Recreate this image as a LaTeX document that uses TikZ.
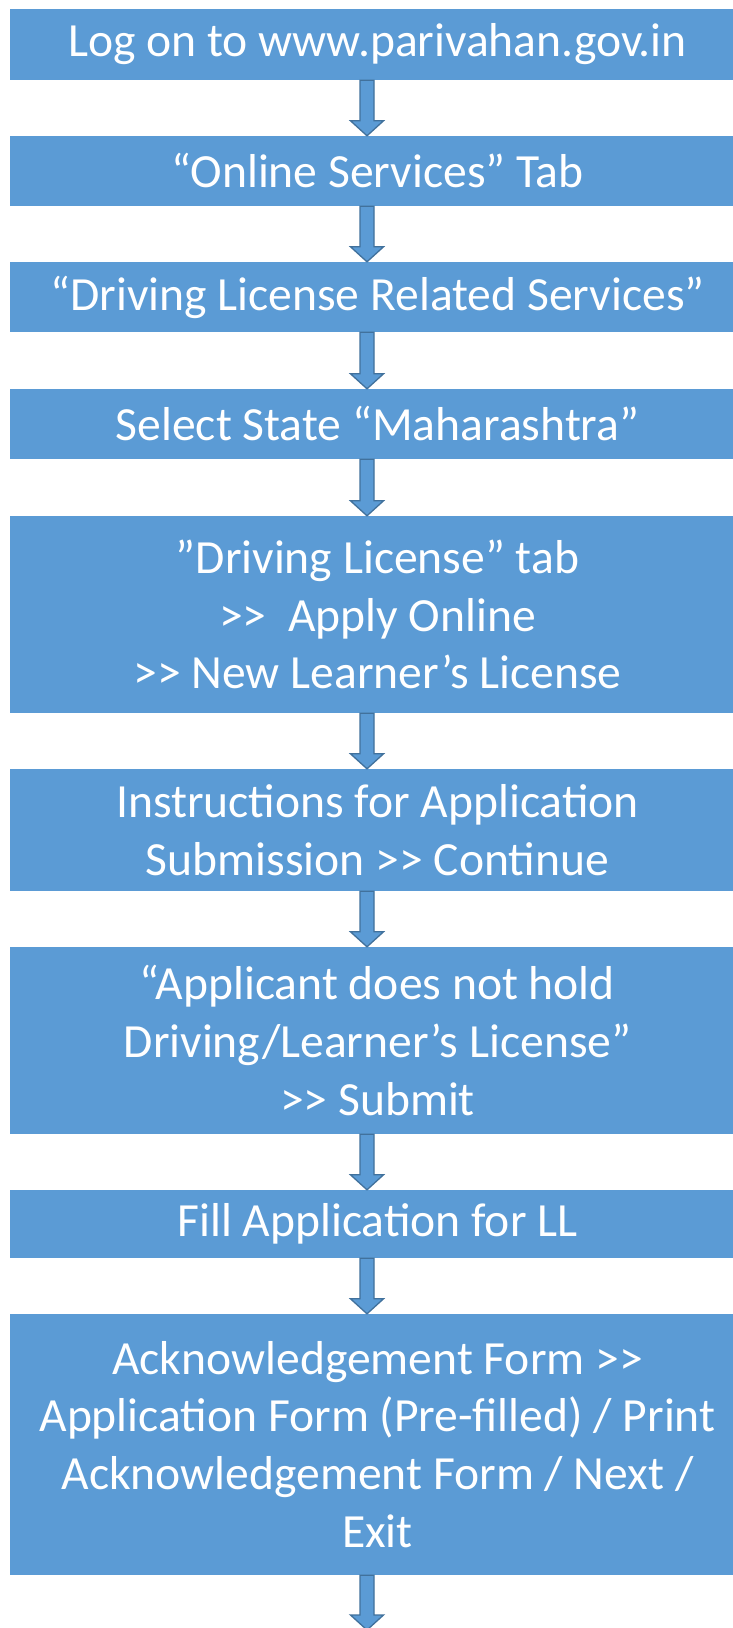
\documentclass[tikz,border=0pt]{standalone}
\usepackage{fontspec}
\setmainfont{Carlito}[Ligatures=TeXOff]
\usetikzlibrary{calc}
\definecolor{boxblue}{HTML}{5B9BD5}
\definecolor{arrowedge}{HTML}{41719C}
\tikzset{
  flowbox/.style={fill=boxblue, draw=none, text=white, minimum width=735pt, inner sep=0pt, align=center, font=\fontsize{47.6}{57.8}\selectfont},
  blockarr/.style={fill=boxblue, draw=arrowedge, line width=1.3pt, line join=miter}
}
\newcommand\flowarrow[2]{%
  \draw[blockarr] ($(#1)+(-7,0)$) -- ($(#2)+(-7,-15)$) -- ($(#2)+(-16.5,-15)$) -- (#2) -- ($(#2)+(16.5,-15)$) -- ($(#2)+(7,-15)$) -- ($(#1)+(7,0)$) -- cycle;}
\begin{document}
\begin{tikzpicture}[x=1pt,y=-1pt]
\useasboundingbox (0,0) rectangle (733,1628);
\clip (0,0) rectangle (733,1628);
\fill[white] (0,0) rectangle (733,1628);
\coordinate (ax) at (367,0);
\node[flowbox, minimum height=71pt] (b1) at (377.5,44.5) {Log on to www.parivahan.gov.in};
\node[flowbox, minimum height=70pt] (b2) at (377.5,171) {“Online Services” Tab};
\node[flowbox, minimum height=70pt] (b3) at (377.5,297) {“Driving License Related Services”};
\node[flowbox, minimum height=70pt] (b4) at (377.5,424) {Select State “Maharashtra”};
\node[flowbox, minimum height=197pt] (b5) at (377.5,614.5) {”Driving License” tab\\>>\ \ Apply Online\\>> New Learner’s License};
\node[flowbox, minimum height=122pt] (b6) at (377.5,830) {Instructions for Application\\Submission >> Continue};
\node[flowbox, minimum height=187pt] (b7) at (377.5,1040.5) {“Applicant does not hold\\Driving/Learner’s License”\\>> Submit};
\node[flowbox, minimum height=68pt] (b8) at (377.5,1224) {Fill Application for LL};
\node[flowbox, minimum height=261pt] (b9) at (377.5,1444.5) {Acknowledgement Form >>\\Application Form (Pre-filled) / Print\\Acknowledgement Form / Next /\\Exit};
\coordinate (end) at (367,1630);
\foreach \a/\b in {b1/b2,b2/b3,b3/b4,b4/b5,b5/b6,b6/b7,b7/b8,b8/b9}{
  \coordinate (s) at (ax|-\a.south);
  \coordinate (t) at (ax|-\b.north);
  \flowarrow{s}{t}
}
\coordinate (s) at (ax|-b9.south);
\flowarrow{s}{end}
\end{tikzpicture}
\end{document}
